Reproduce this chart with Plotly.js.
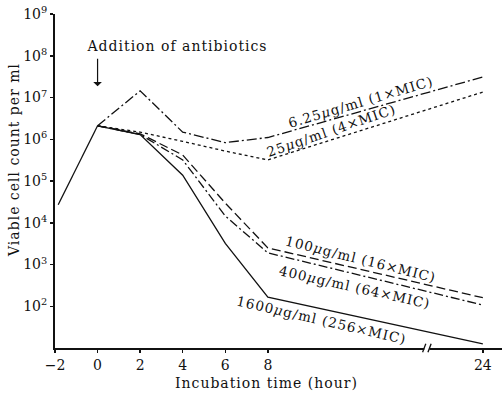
<!DOCTYPE html>
<html>
<head>
<meta charset="utf-8">
<script src="https://cdn.plot.ly/plotly-3.0.1.min.js"></script>
<style>
html,body{margin:0;padding:0;background:#fff;}
#chart{width:502px;height:393px;}
#chart .annotation-text{letter-spacing:1px;}
</style>
</head>
<body>
<div id="chart"></div>
<script>
// ---- data (hours, viable cells per ml) ----
const controlHours = [-1.85, 0];
const controlCount = [2.7e4, 2.1e6];

const mic1Hours  = [0, 2, 4, 6, 8, 24];
const mic1Count  = [2.1e6, 1.45e7, 1.48e6, 8.3e5, 1.1e6, 3.1e7];

const mic4Hours  = [0, 2, 4, 6, 8, 24];
const mic4Count  = [2.1e6, 1.48e6, 8.9e5, 5.2e5, 3.2e5, 1.35e7];

const mic16Hours = [0, 2, 4, 6, 8, 24];
const mic16Count = [2.1e6, 1.35e6, 4.2e5, 2.95e4, 2.5e3, 160];

const mic64Hours = [0, 2, 4, 6, 8, 24];
const mic64Count = [2.1e6, 1.3e6, 3.2e5, 1.45e4, 1.9e3, 107];

const mic256Hours = [0, 2, 4, 6, 8, 24];
const mic256Count = [2.1e6, 1.3e6, 1.38e5, 3.2e3, 166, 12.6];

const xTickHours = [-2, 0, 2, 4, 6, 8, 24];
const xTickText  = ['\u22122', '0', '2', '4', '6', '8', '24'];
const yTickVals  = [1e2, 1e3, 1e4, 1e5, 1e6, 1e7, 1e8, 1e9];
const yTickText  = ['10<sup>2</sup>','10<sup>3</sup>','10<sup>4</sup>','10<sup>5</sup>','10<sup>6</sup>','10<sup>7</sup>','10<sup>8</sup>','10<sup>9</sup>'];

const seriesLabels = [
  '6.25<i>\u03bc</i>g/ml (1\u00d7MIC)',
  '25<i>\u03bc</i>g/ml (4\u00d7MIC)',
  '100<i>\u03bc</i>g/ml (16\u00d7MIC)',
  '400<i>\u03bc</i>g/ml (64\u00d7MIC)',
  '1600<i>\u03bc</i>g/ml (256\u00d7MIC)'
];

// broken time axis: the 8 -> 24 h stretch is compressed
const BREAK_AFTER = 8, BREAK_SHIFT = 5.9;
const pos = h => (h <= BREAK_AFTER ? h : h - BREAK_SHIFT);
const P = arr => arr.map(pos);

const serif = 'DejaVu Serif, Liberation Serif, serif';
const black = '#111';

function line(xh, y, dash, name) {
  return {x: P(xh), y: y, type: 'scatter', mode: 'lines', name: name,
          line: {color: black, width: 1.3, dash: dash}, hoverinfo: 'skip'};
}

const data = [
  line(controlHours, controlCount, 'solid', 'control'),
  line(mic1Hours, mic1Count, '10px,3px,2px,3px', seriesLabels[0]),
  line(mic4Hours, mic4Count, '3px,3px', seriesLabels[1]),
  line(mic16Hours, mic16Count, '9px,4px', seriesLabels[2]),
  line(mic64Hours, mic64Count, '9px,3px,2px,3px', seriesLabels[3]),
  line(mic256Hours, mic256Count, 'solid', seriesLabels[4])
];

const lab = (text, x, y, ang) => ({text: text, x: x, y: y, xref: 'x', yref: 'y',
  xanchor: 'center', yanchor: 'middle',
  showarrow: false, textangle: ang, font: {family: serif, size: 13.5, color: black}});

const paperText = (text, px, py, ang) => ({text: text, xref: 'paper', yref: 'paper',
  x: (px - 55) / 447, y: 1 - (py - 14) / 334, xanchor: 'center', yanchor: 'middle',
  textangle: ang, showarrow: false, font: {family: serif, size: 14, color: black}});

const breakX = 15.47;

const layout = {
  width: 502, height: 393,
  margin: {l: 55, r: 0, t: 14, b: 45},
  paper_bgcolor: '#fff', plot_bgcolor: '#fff',
  showlegend: false,
  font: {family: serif, color: black, size: 14},
  xaxis: {
    range: [-2, 19.0], showgrid: false, zeroline: false,
    showline: true, linecolor: black, linewidth: 2,
    ticks: 'outside', ticklen: 3, tickwidth: 1.5, tickcolor: black,
    tickvals: P(xTickHours), ticktext: xTickText,
    tickfont: {family: serif, size: 14, color: black}
  },
  yaxis: {
    type: 'log', range: [1, 9], showgrid: false, zeroline: false,
    showline: true, linecolor: black, linewidth: 2,
    ticks: 'outside', ticklen: 3, tickwidth: 1.5, tickcolor: black,
    tickvals: yTickVals, ticktext: yTickText,
    tickfont: {family: serif, size: 14, color: black}
  },
  annotations: [
    paperText('Addition of antibiotics', 177, 46, 0),
    {text: '', x: 0, y: 7.27, xref: 'x', yref: 'y', showarrow: true,
     ax: 0, ay: -29, arrowhead: 1, arrowsize: 1.2, arrowwidth: 1.2, arrowcolor: black},
    lab(seriesLabels[0], 12.33, 6.89, -16.5),
    lab(seriesLabels[1], 11.01, 6.22, -19),
    lab(seriesLabels[2], 12.37, 3.13, 14),
    lab(seriesLabels[3], 12.09, 2.46, 12.6),
    lab(seriesLabels[4], 10.54, 1.66, 13),
    paperText('Viable cell count per ml', 14, 160, -90),
    paperText('Incubation time (hour)', 266, 383, 0)
  ],
  shapes: [
    {type: 'rect', xref: 'x', yref: 'paper', x0: breakX - 0.12, x1: breakX + 0.12,
     y0: -0.01, y1: 0.01, fillcolor: '#fff', line: {width: 0}, layer: 'above'},
    {type: 'line', xref: 'x', yref: 'paper', x0: breakX - 0.2, x1: breakX - 0.05,
     y0: -0.013, y1: 0.013, line: {color: black, width: 1.3}},
    {type: 'line', xref: 'x', yref: 'paper', x0: breakX + 0.05, x1: breakX + 0.2,
     y0: -0.013, y1: 0.013, line: {color: black, width: 1.3}}
  ]
};

Plotly.newPlot('chart', data, layout, {staticPlot: true, displayModeBar: false});
</script>
</body>
</html>
